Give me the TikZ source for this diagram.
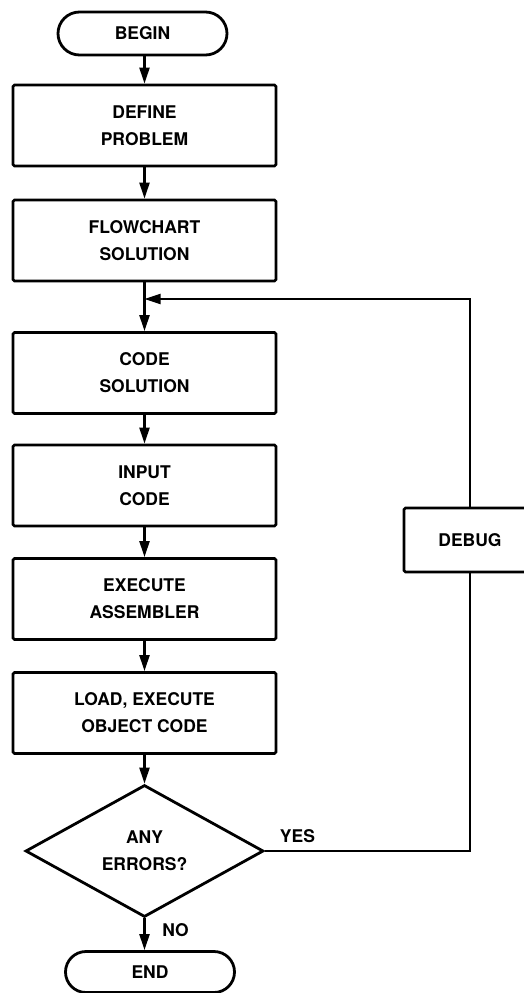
\documentclass[tikz,border=0pt]{standalone}
\usepackage{fontspec}
\setmainfont{TeX Gyre Heros}
\usetikzlibrary{shapes.geometric,shapes.misc,arrows.meta}
\begin{document}
\begin{tikzpicture}[x=1pt,y=-1pt,
  every node/.style={font=\fontsize{17.5}{27}\selectfont\bfseries, align=center},
  procbox/.style={draw, line width=2.8pt, rounded corners=1.5pt, minimum width=263pt, minimum height=81pt, inner sep=0pt},
  term/.style={draw, line width=2.8pt, rounded rectangle, minimum height=43pt, inner sep=0pt},
  decision/.style={draw, line width=2.8pt, diamond, aspect=1.8, minimum width=238pt, minimum height=132pt, inner sep=0pt},
  conn/.style={line width=2.2pt},
  arr/.style={line width=2.2pt, -{Triangle[length=16pt,width=10pt]}},
  lbl/.style={inner sep=0pt}]
\useasboundingbox (0,0) rectangle (524,993);
\node[term, minimum width=169pt] (begin) at (142.5,33.5) {BEGIN};
\node[procbox] (define) at (144.5,125.5) {DEFINE\\PROBLEM};
\node[procbox] (flow) at (144.5,240.5) {FLOWCHART\\SOLUTION};
\node[procbox] (code) at (144.5,373) {CODE\\SOLUTION};
\node[procbox] (input) at (144.5,485.5) {INPUT\\CODE};
\node[procbox] (exec) at (144.5,599) {EXECUTE\\ASSEMBLER};
\node[procbox] (load) at (144.5,713) {LOAD, EXECUTE\\OBJECT CODE};
\node[decision] (dec) at (144.5,851) {ANY\\ERRORS?};
\node[term, minimum width=169pt, minimum height=41pt] (end) at (150,972) {END};
\node[procbox, minimum width=132pt, minimum height=64pt] (debug) at (470,540) {DEBUG};
\coordinate (fb) at (144.5,299);
\node[lbl] (yes) at (297.5,836) {YES};
\node[lbl] (no) at (175.5,930) {NO};
\draw[arr] (define.north |- begin.south) -- (define.north);
\draw[arr] (define) -- (flow);
\draw[arr] (flow) -- (code);
\draw[arr] (code) -- (input);
\draw[arr] (input) -- (exec);
\draw[arr] (exec) -- (load);
\draw[arr] (load) -- (dec);
\draw[arr] (dec.south) -- (dec.south |- end.north);
\draw[conn] (dec.east) -| (debug.south);
\draw[arr] (debug.north) |- (fb);
\end{tikzpicture}
\end{document}
